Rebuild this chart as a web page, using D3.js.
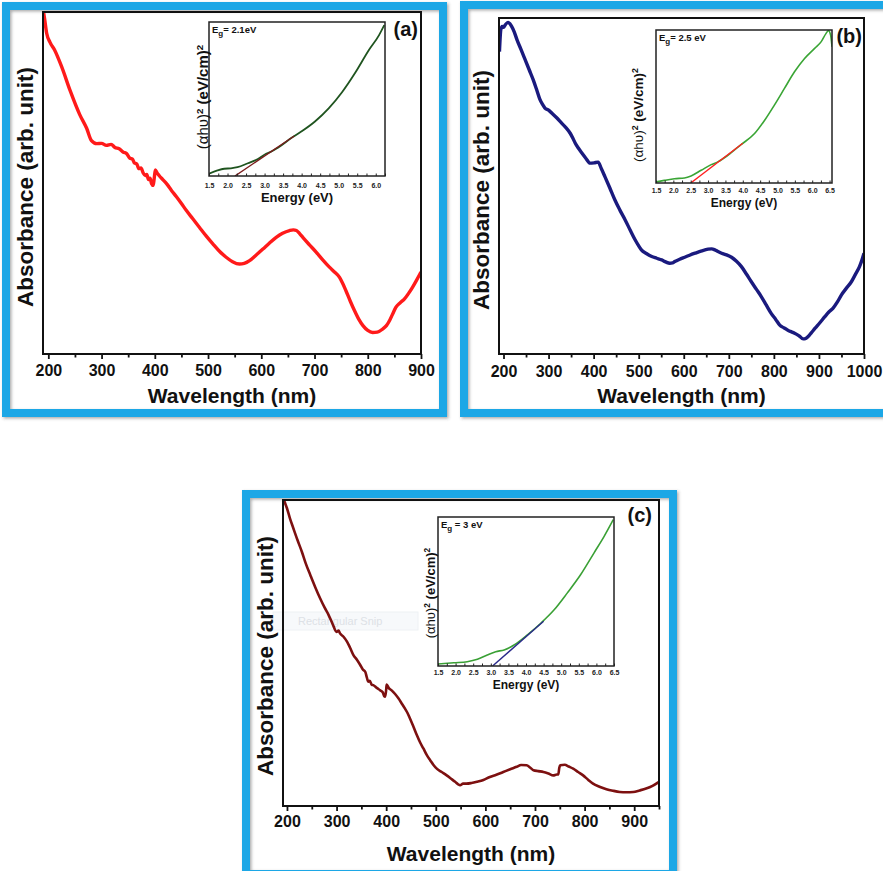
<!DOCTYPE html>
<meta charset="utf-8">
<style>
body { margin: 0; background: #fff; }
svg { display: block; font-family: "Liberation Sans", Arial, sans-serif; }
</style>
<body>
<svg width="883" height="871"></svg>
<script src="https://cdnjs.cloudflare.com/ajax/libs/d3/7.8.5/d3.min.js"></script>
<script>
// ---- panel (a): absorbance vs wavelength ----
var waveA = [190,193,197,203,212,225,241,259,272,281,
             291,300,309,318,325,333,341,347,353,358,
             362,366,370,374,378,382,385,388,391,394,
             397,399,401,404,408,415,422,431,441,450,
             459,471,484,496,509,521,534,546,559,568,
             578,590,603,615,628,640,653,660,666,672,
             678,690,703,715,728,738,747,753,759,767,
             775,783,791,800,809,818,828,835,841,847,
             853,861,869,877,884,891,898,900];
var absA  = [101,98,93.7,91.2,88.8,84,77,70,66,62.4,
             61.5,61.6,61.0,61.3,60.4,60.0,59.0,58.6,57.3,57.0,
             55.8,55.6,54.2,54.4,53.0,52.2,52.5,51.0,51.4,49.8,
             49.3,51.5,53.8,53.0,52.2,51.0,49.8,47.9,45.9,44.0,
             42.0,39.6,37.0,34.6,32.2,30.1,28.3,27.0,26.3,26.5,
             27.3,28.9,30.7,32.4,34.1,35.3,36.1,36.3,36.1,35.2,
             34.1,32.0,29.8,27.6,25.4,23.9,22.4,20.6,18.5,15.5,
             12.7,10.2,8.3,6.9,6.3,6.4,7.3,8.3,9.8,11.8,
             13.7,15.0,16.1,17.8,19.5,21.4,23.4,24.0];

// ---- panel (b) ----
var waveB = [191,194,197,200,204,210,214,218,224,230,
             239,248,257,266,274,281,287,292,300,307,
             318,329,339,348,354,359,366,374,383,392,
             401,410,417,425,436,447,458,470,481,492,
             499,506,517,529,540,551,560,569,575,580,
             591,602,613,625,640,654,662,669,676,684,
             695,706,717,728,739,750,761,772,783,794,
             804,813,822,831,839,846,856,865,870,876,
             883,891,902,913,922,931,941,950,961,972,
             981,990,995,1000];
var absB  = [90,96.5,97.5,97.2,98,98.7,98.3,97.5,95.8,93.5,
             90.6,87.6,84.6,81.6,78.5,75.7,74.2,73.2,72.6,71.7,
             70.3,68.7,67.3,65.7,64.2,62.8,61.3,59.8,58.2,56.8,
             56.9,57.1,55.2,52.8,49.4,45.9,42.9,39.9,36.9,34.0,
             32.4,31.0,29.9,29.0,28.5,28.0,27.4,27.0,27.1,27.5,
             28.2,28.8,29.4,30.0,30.7,31.2,31.3,31.0,30.5,30.0,
             29.5,28.8,27.6,26.0,23.8,21.5,19.3,17.1,14.6,12.1,
             10.3,8.6,7.8,7.1,6.6,6.2,5.4,4.5,4.6,5.2,
             6.3,7.6,9.3,11.1,12.5,13.6,15.5,17.6,19.6,21.5,
             23.7,26.0,27.8,30];

// ---- panel (c) ----
var waveC = [192,195,200,206,213,221,230,238,247,257,
             267,276,284,292,300,304,307,314,321,327,
             334,341,348,353,358,361,364,367,371,374,
             381,388,393,396,398,400,401,405,411,418,
             425,431,438,443,448,455,462,468,475,482,
             489,495,502,512,522,531,539,545,549,555,
             562,572,583,596,609,622,636,650,663,672,
             683,690,697,707,717,727,737,744,747,749,
             751,760,768,777,787,797,807,817,830,844,
             857,871,884,898,911,924,937,950];
var absC  = [101,99.5,97.3,94,90.7,87,83.1,79.2,75.5,71.5,
             67.8,64.8,62.4,59.5,56.9,57.3,56.4,55.3,53.7,51.8,
             49.3,47.8,46.0,44.6,43.8,42.0,40.6,40.9,39.6,39.5,
             38.6,37.8,37.2,35.9,35.7,38.0,39.7,38.6,37.8,36.6,
             35.1,33.6,31.8,30.4,28.6,25.9,23.1,20.9,18.8,16.6,
             14.9,13.5,12.2,11.1,10.0,8.9,7.9,7.1,6.8,7.3,
             7.3,7.5,7.9,8.5,9.5,10.2,11.1,12.0,12.8,13.4,
             13.3,12.6,11.7,11.4,11.1,10.6,10.0,10.3,10.3,12.5,
             13.3,13.5,12.9,12.2,11.1,10.0,8.6,7.3,6.3,5.5,
             5.0,4.6,4.5,4.6,5.1,5.7,6.6,7.9];

// ---- Tauc plot insets ----
var energyA = [1.5,1.73,1.91,2.09,2.27,2.55,2.82,3.05,3.15,3.36,3.73,4.0,4.36,4.73,5.09,5.45,5.82,6.09,6.23];
var tauA    = [1.5,3.6,4.7,5.0,5.7,8.3,11,14.6,15.5,18.4,24.8,29,35.4,43.9,54.4,67.2,82,91.5,98];
var fitA    = [[2.2, 0], [3.8, 26]];

var energyB = [1.5,1.74,2.03,2.32,2.51,2.8,3.09,3.28,3.57,3.95,4.34,4.63,4.91,5.2,5.49,5.78,6.07,6.26,6.4,6.47,6.53,6.57];
var tauB    = [0.7,1.7,2.8,3.3,4.6,8.3,12,13.8,18.1,25.1,32.3,41,50.9,61.8,72.7,81.4,88,92.4,97.8,99.6,96.7,89];
var fitB    = [[2.5, 0], [4.0, 26]];

var energyC = [1.5,1.95,2.33,2.62,2.9,3.14,3.38,3.66,4.04,4.42,4.8,5.17,5.55,5.93,6.22,6.48];
var tauC    = [1.3,2.2,2.9,4.5,7.4,9.6,10.8,14.1,20.9,28.7,37.7,48.9,61.2,75.8,87,98.2];
var fitC    = [[3.05, 0], [4.5, 30]];

var bandGaps = ["2.1eV", "2.5 eV", "3 eV"];
var panelLabels = ["(a)", "(b)", "(c)"];

var BLUE = "#1ba7e6";
var FONT = "Liberation Sans, Arial, sans-serif";

var svg = d3.select("svg");
var defs = svg.append("defs");
var shadow = defs.append("filter").attr("id", "shadow")
    .attr("x", "-5%").attr("y", "-5%").attr("width", "110%").attr("height", "110%");
shadow.append("feDropShadow").attr("dx", 1.5).attr("dy", 1.5).attr("stdDeviation", 1.5)
    .attr("flood-color", "#444").attr("flood-opacity", 0.45);

function clip(id, b) {
  defs.append("clipPath").attr("id", id).append("rect")
      .attr("x", b[0]).attr("y", b[2]).attr("width", b[1] - b[0]).attr("height", b[3] - b[2]);
  return "url(#" + id + ")";
}

function drawInset(q, id) {
  var x = d3.scaleLinear().domain(q.xDomain).range([q.box[0], q.box[1]]),
      y = d3.scaleLinear().domain([0, 100]).range([q.box[3], q.box[2]]);
  svg.append("rect").attr("x", q.box[0]).attr("y", q.box[2])
      .attr("width", q.box[1] - q.box[0]).attr("height", q.box[3] - q.box[2]).attr("fill", "#fff");
  var cp = clip(id, q.box);
  var line = d3.line().x(function(d) { return x(d[0]); }).y(function(d) { return y(d[1]); });

  svg.append("path").datum(d3.zip(q.xs, q.ys))
      .attr("d", line.curve(d3.curveMonotoneX)).attr("fill", "none")
      .attr("stroke", q.color).attr("stroke-width", q.width).attr("clip-path", cp);
  svg.append("path").datum(q.fit)
      .attr("d", line.curve(d3.curveLinear)).attr("fill", "none")
      .attr("stroke", q.fitColor).attr("stroke-width", 1.4).attr("clip-path", cp);

  // small inward ticks every 0.25 eV, labels every 0.5 eV
  var ax = svg.append("g").attr("transform", "translate(0," + q.box[3] + ")")
      .call(d3.axisBottom(x).tickValues(d3.range(1.5, q.xDomain[1] + 0.001, 0.25))
        .tickSize(-2.5).tickSizeOuter(0).tickPadding(q.pad)
        .tickFormat(function(v) { return Math.abs(v * 2 - Math.round(v * 2)) < 1e-9 ? d3.format(".1f")(v) : ""; }));
  ax.attr("font-size", 7).attr("font-family", FONT).attr("font-weight", "bold");
  ax.select(".domain").remove();
  ax.selectAll("line").attr("stroke", "#222");
  ax.selectAll("text").attr("fill", "#222");

  svg.append("rect").attr("x", q.box[0]).attr("y", q.box[2])
      .attr("width", q.box[1] - q.box[0]).attr("height", q.box[3] - q.box[2])
      .attr("fill", "none").attr("stroke", "#222").attr("stroke-width", 1.5);

  svg.append("text").attr("x", (q.box[0] + q.box[1]) / 2).attr("y", q.xTitleY)
      .attr("text-anchor", "middle").attr("font-size", q.fs).attr("font-weight", "bold")
      .attr("fill", "#111").text("Energy (eV)");

  var t = svg.append("text")
      .attr("transform", "translate(" + q.yTitle[0] + "," + q.yTitle[1] + ") rotate(-90)")
      .attr("text-anchor", "middle").attr("font-size", q.yfs).attr("fill", "#111");
  t.append("tspan").text("(\u03b1h\u03c5)");
  t.append("tspan").attr("dy", -q.yfs * 0.35).attr("font-size", q.yfs * 0.65).attr("font-weight", "bold").text("2");
  t.append("tspan").attr("dy", q.yfs * 0.35).attr("font-weight", "bold").text(" (eV/cm)");
  t.append("tspan").attr("dy", -q.yfs * 0.35).attr("font-size", q.yfs * 0.65).attr("font-weight", "bold").text("2");

  var e = svg.append("text").attr("x", q.box[0] + 3).attr("y", q.box[2] + 11)
      .attr("font-size", 9.5).attr("font-weight", "bold").attr("fill", "#111");
  e.append("tspan").text("E");
  e.append("tspan").attr("dy", 3).attr("font-size", 8).text("g");
  e.append("tspan").attr("dy", -3).text(q.egSpace + "= " + q.eg);
}

function drawPanel(p, id) {
  svg.append("rect").attr("x", p.frame[0]).attr("y", p.frame[1])
      .attr("width", p.frame[2]).attr("height", p.frame[3])
      .attr("fill", "none").attr("stroke", BLUE).attr("stroke-width", 8).attr("filter", "url(#shadow)");

  var x = d3.scaleLinear().domain(p.xDomain).range([p.box[0], p.box[1]]),
      y = d3.scaleLinear().domain([0, 100]).range([p.box[3], p.box[2]]);
  var cp = clip(id, p.box);

  if (p.before) p.before();

  svg.append("path").datum(d3.zip(p.xs, p.ys))
      .attr("d", d3.line().x(function(d) { return x(d[0]); }).y(function(d) { return y(d[1]); })
        .curve(d3.curveMonotoneX))
      .attr("fill", "none").attr("stroke", p.color).attr("stroke-width", p.width)
      .attr("stroke-linejoin", "round").attr("clip-path", cp);

  var ax = svg.append("g").attr("transform", "translate(0," + p.box[3] + ")")
      .call(d3.axisBottom(x).tickValues(d3.range(200, p.xDomain[1] + 1, 50))
        .tickSize(5).tickSizeOuter(0).tickPadding(p.pad)
        .tickFormat(function(v) { return v % 100 === 0 ? v : ""; }));
  ax.attr("font-size", 16).attr("font-family", FONT).attr("font-weight", "bold");
  ax.select(".domain").remove();
  ax.selectAll("line").attr("stroke", "#111").attr("stroke-width", 1.8)
      .attr("y2", function(v) { return v % 100 === 0 ? 5 : 3.5; });
  ax.selectAll("text").attr("fill", "#111");

  svg.append("rect").attr("x", p.box[0]).attr("y", p.box[2])
      .attr("width", p.box[1] - p.box[0]).attr("height", p.box[3] - p.box[2])
      .attr("fill", "none").attr("stroke", "#111").attr("stroke-width", 2);

  svg.append("text").attr("x", (p.box[0] + p.box[1]) / 2).attr("y", p.xTitleY)
      .attr("text-anchor", "middle").attr("font-size", 21).attr("font-weight", "bold")
      .attr("fill", "#111").text("Wavelength (nm)");
  svg.append("text")
      .attr("transform", "translate(" + p.yTitle[0] + "," + p.yTitle[1] + ") rotate(-90)")
      .attr("text-anchor", "middle").attr("font-size", 22.5).attr("font-weight", "bold")
      .attr("fill", "#111").text("Absorbance (arb. unit)");

  svg.append("text").attr("x", p.label[0]).attr("y", p.label[1])
      .attr("text-anchor", "end").attr("font-size", 20).attr("font-weight", "bold")
      .attr("fill", "#111").text(p.labelText);

  drawInset(p.inset, id + "i");
}

drawPanel({
  frame: [6, 6, 437, 407], box: [43, 421, 12, 354], xDomain: [190, 900],
  xs: waveA, ys: absA, color: "#ff1a1a", width: 3.4, pad: 6,
  xTitleY: 403, yTitle: [33, 187], label: [418, 36], labelText: panelLabels[0],
  inset: { box: [209, 385, 22, 176], xDomain: [1.5, 6.25], xs: energyA, ys: tauA, fit: fitA,
           color: "#1f541f", width: 1.8, fitColor: "#7a1c1c", pad: 7, fs: 13, yfs: 15,
           xTitleY: 202, yTitle: [208, 97], eg: bandGaps[0], egSpace: "" }
}, "clipA");

drawPanel({
  frame: [464, 5, 500, 408], box: [499, 864, 18, 354], xDomain: [190, 1000],
  xs: waveB, ys: absB, color: "#1a1a7e", width: 3.4, pad: 7,
  xTitleY: 403, yTitle: [489, 190], label: [862, 43], labelText: panelLabels[1],
  inset: { box: [656, 832, 30, 183], xDomain: [1.5, 6.57], xs: energyB, ys: tauB, fit: fitB,
           color: "#3aa535", width: 1.6, fitColor: "#ff2020", pad: 5, fs: 12, yfs: 13.5,
           xTitleY: 207, yTitle: [643, 115], eg: bandGaps[1], egSpace: "" }
}, "clipB");

drawPanel({
  frame: [246, 494, 427, 380], box: [283, 659, 500, 806], xDomain: [192, 950],
  xs: waveC, ys: absC, color: "#7d1010", width: 2.6, pad: 5,
  xTitleY: 861, yTitle: [273, 656], label: [652, 522], labelText: panelLabels[2],
  before: function() {
    // faint leftover tooltip in the source picture
    svg.append("rect").attr("x", 273).attr("y", 612).attr("width", 145).attr("height", 18)
        .attr("fill", "#f7f9fb").attr("stroke", "#eef1f4");
    svg.append("text").attr("x", 298).attr("y", 625).attr("font-size", 11)
        .attr("fill", "#dde1e6").text("Rectangular Snip");
  },
  inset: { box: [438, 614, 517, 666], xDomain: [1.5, 6.5], xs: energyC, ys: tauC, fit: fitC,
           color: "#3aa035", width: 1.6, fitColor: "#2a2a8a", pad: 4, fs: 12, yfs: 13,
           xTitleY: 689, yTitle: [435, 593], eg: bandGaps[2], egSpace: " " }
}, "clipC");
</script>
</body>
